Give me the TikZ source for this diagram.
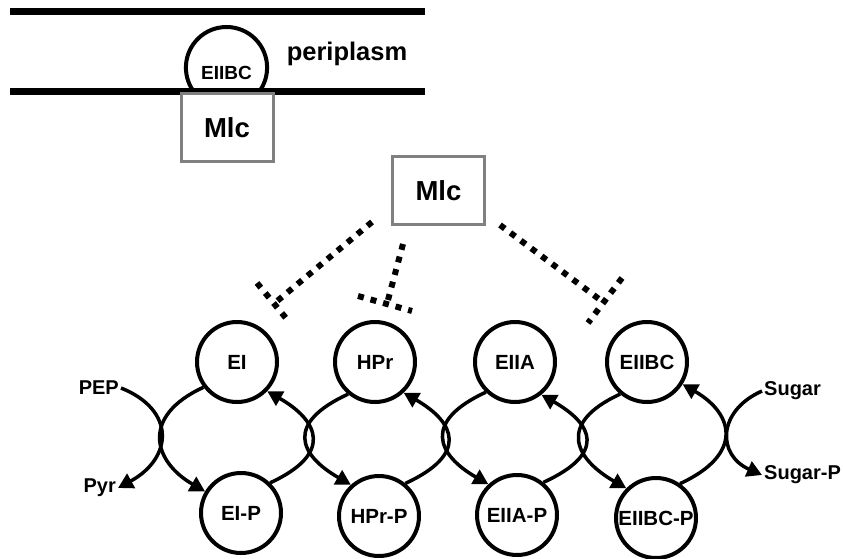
\documentclass[tikz,border=0pt]{standalone}
\usepackage{fontspec}
\setmainfont{Liberation Sans}
\usetikzlibrary{arrows.meta}
\definecolor{mlcgray}{RGB}{128,128,128}

\begin{document}
\begin{tikzpicture}[x=1pt,y=1pt,>={Triangle[length=15pt,width=16pt]},
    protein/.style={shape=circle,draw=black,line width=4pt,minimum size=80pt,inner sep=0pt,font=\fontsize{20.5}{20.5}\selectfont\bfseries},
    mlcbox/.style={shape=rectangle,draw=mlcgray,fill=white,line width=3pt,minimum width=92pt,minimum height=68pt,font=\fontsize{27.5}{27.5}\selectfont\bfseries},
    chem/.style={inner sep=2pt,font=\fontsize{20}{20}\selectfont\bfseries},
    membrane/.style={line width=7pt},
    inhibit/.style={line width=6pt,dash pattern=on 6pt off 7pt},
    swingleft/.style={to path={.. controls +(-63,-29) and +(-52,30) .. (\tikztotarget)}},
    swingright/.style={to path={.. controls +(63,29) and +(52,-30) .. (\tikztotarget)}}]
                \useasboundingbox[fill=white](0,0)rectangle(843,558);
                \draw[line width=4pt](226.5,490.4)++(-40:40.6)arc[start angle=-40,end angle=220,radius=40.6];
                \draw[membrane](10,546.5)--(425,546.5);
                \draw[membrane](10,466)--(425,466);
                \node[font=\fontsize{19}{19}\selectfont\bfseries](domeEIIBC)at(226.5, 485){EIIBC};
                \node[font=\fontsize{25.5}{25.5}\selectfont\bfseries](periplasm)at(347, 504){periplasm};
                \node[mlcbox](mlcTop)at(227, 430.5){Mlc};
                \node[mlcbox](mlc)at(438.5, 367.5){Mlc};
                \node[protein](EI)at(237, 196){EI};
                \node[protein](HPr)at(375, 196){HPr};
                \node[protein](EIIA)at(515, 196){EIIA};
                \node[protein](EIIBC)at(647, 196){EIIBC};
                \node[protein](EIP)at(241, 45){EI-P};
                \node[protein](HPrP)at(379, 42){HPr-P};
                \node[protein](EIIAP)at(517, 43){EIIA-P};
                \node[protein](EIIBCP)at(656, 40){EIIBC-P};
                \node[chem,anchor=east](PEP)at(121, 170){PEP};
                \node[chem,anchor=east](Pyr)at(118, 70){Pyr};
                \node[chem,anchor=west](Sugar)at(762, 167){Sugar};
                \node[chem,anchor=west](SugarP)at(762, 83){Sugar-P};
                \coordinate(inhEIfrom)at(372, 336);
                \coordinate(inhEIto)at(276, 256);
                \coordinate(barEIa)at(257, 275);
                \coordinate(barEIb)at(290, 235);
                \coordinate(inhHPrfrom)at(403, 314);
                \coordinate(inhHPrto)at(388, 258);
                \coordinate(barHPra)at(358, 262);
                \coordinate(barHPrb)at(412, 247);
                \coordinate(inhEIIBCfrom)at(500, 333);
                \coordinate(inhEIIBCto)at(603, 256);
                \coordinate(barEIIBCa)at(622, 280);
                \coordinate(barEIIBCb)at(588, 235);
                \path[inhibit](inhEIfrom) edge (inhEIto)
                (barEIa) edge (barEIb)
                (inhHPrfrom) edge (inhHPrto)
                (barHPra) edge (barHPrb)
                (inhEIIBCfrom) edge (inhEIIBCto)
                (barEIIBCa) edge (barEIIBCb);
                \path[->,line width=3.5pt](PEP.east) edge [to path={.. controls +(55,-22) and +(55,30) .. (\tikztotarget)}] (Pyr.east)
                (EI.217) edge [swingleft] (EIP.149)
                (EIP.46) edge [swingright] (EI.316)
                (HPr.230) edge [swingleft] (HPrP.132)
                (HPrP.51) edge [swingright] (HPr.313)
                (EIIA.226) edge [swingleft] (EIIAP.133)
                (EIIAP.51) edge [swingright] (EIIA.309)
                (EIIBC.230) edge [swingleft] (EIIBCP.135)
                (EIIBCP.55) edge [swingright] (EIIBC.328)
                (Sugar.west) edge [to path={.. controls +(-45,-20) and +(-45,20) .. (\tikztotarget)}] (SugarP.west);
            \end{tikzpicture}
\end{document}
